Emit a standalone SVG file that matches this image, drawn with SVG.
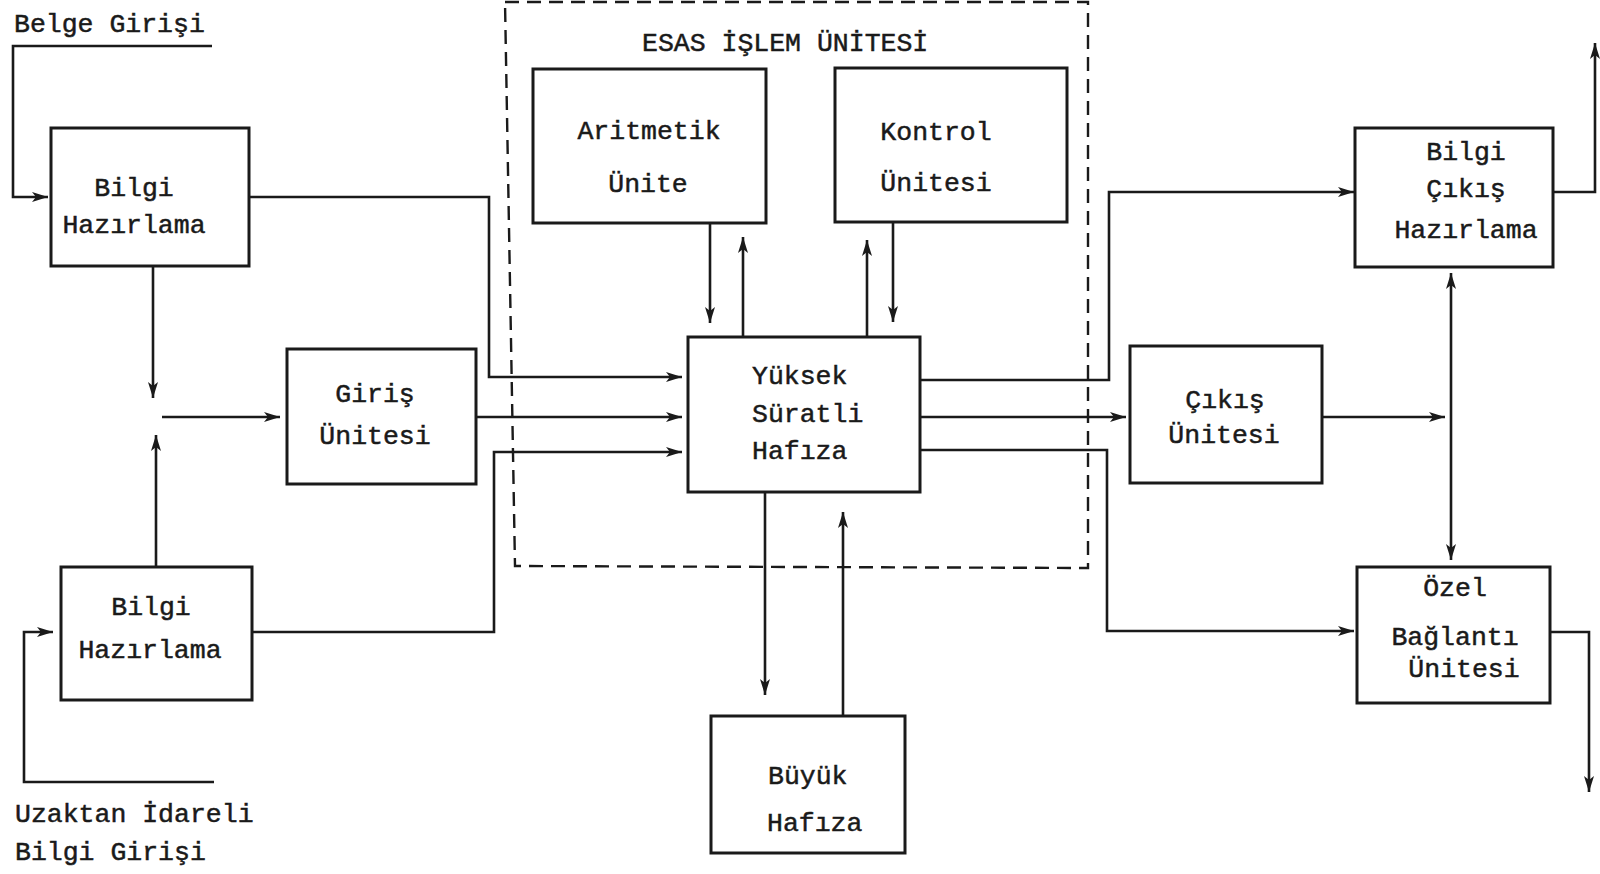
<svg xmlns="http://www.w3.org/2000/svg" width="1600" height="874" viewBox="0 0 1600 874">
<style>
.box{fill:none;stroke:#1a1a1a;stroke-width:3}
.ln{fill:none;stroke:#1a1a1a;stroke-width:2.6}
.ar{marker-end:url(#ah)}
.dash{fill:none;stroke:#1a1a1a;stroke-width:2.4;stroke-dasharray:14 8}
text{font-family:"Liberation Mono","DejaVu Sans Mono",monospace;font-size:26.5px;fill:#1a1a1a;stroke:#1a1a1a;stroke-width:0.5}
.m{text-anchor:middle}
</style>
<defs>
<marker id="ah" markerUnits="userSpaceOnUse" markerWidth="18" markerHeight="12" refX="16" refY="6" orient="auto-start-reverse">
<path d="M0,1 L16,6 L0,11 L4,6 Z" fill="#1a1a1a"/>
</marker>
</defs>
<rect width="1600" height="874" fill="#ffffff"/>

<g id="connectors">
<polyline class="ln ar" points="212,46 13,46 13,197 48,197"/>
<polyline class="ln ar" points="249,197 489,197 489,377 682,377"/>
<polyline class="ln ar" points="153,266 153,398"/>
<polyline class="ln ar" points="162,417 280,417"/>
<polyline class="ln ar" points="156,567 156,435"/>
<polyline class="ln ar" points="476,417 682,417"/>
<polyline class="ln ar" points="252,632 494,632 494,452 682,452"/>
<polyline class="ln ar" points="214,782 24,782 24,632 53,632"/>
<polyline class="ln ar" points="710,223 710,323"/>
<polyline class="ln ar" points="743,337 743,237"/>
<polyline class="ln ar" points="867,337 867,240"/>
<polyline class="ln ar" points="893,222 893,322"/>
<polyline class="ln ar" points="920,380 1109,380 1109,192 1354,192"/>
<polyline class="ln ar" points="920,417 1126,417"/>
<polyline class="ln ar" points="920,450 1107,450 1107,631 1354,631"/>
<polyline class="ln ar" points="765,492 765,695"/>
<polyline class="ln ar" points="843,716 843,512"/>
<polyline class="ln ar" points="1553,192 1595,192 1595,43"/>
<polyline class="ln ar" points="1322,417 1445,417"/>
<line class="ln" x1="1451" y1="273" x2="1451" y2="560" marker-start="url(#ah)" marker-end="url(#ah)"/>
<polyline class="ln ar" points="1550,632 1589,632 1589,792"/>
</g>

<g id="esas-islem-unitesi">
<polygon class="dash" points="505,2 1088,2 1088,568 515,566"/>
<text x="642" y="51">ESAS İŞLEM ÜNİTESİ</text>
</g>

<g id="belge-girisi">
<text x="14" y="32">Belge Girişi</text>
</g>

<g id="uzaktan-girisi">
<text x="15" y="822">Uzaktan İdareli</text>
<text x="15" y="860">Bilgi Girişi</text>
</g>

<g id="bilgi-hazirlama-1">
<rect class="box" x="51" y="128" width="198" height="138"/>
<text class="m" x="134" y="196">Bilgi</text>
<text class="m" x="134" y="233">Hazırlama</text>
</g>

<g id="bilgi-hazirlama-2">
<rect class="box" x="61" y="567" width="191" height="133"/>
<text class="m" x="151" y="615">Bilgi</text>
<text class="m" x="150" y="658">Hazırlama</text>
</g>

<g id="giris-unitesi">
<rect class="box" x="287" y="349" width="189" height="135"/>
<text class="m" x="375" y="402">Giriş</text>
<text class="m" x="375" y="444">Ünitesi</text>
</g>

<g id="aritmetik-unite">
<rect class="box" x="533" y="69" width="233" height="154"/>
<text class="m" x="649" y="139">Aritmetik</text>
<text class="m" x="648" y="192">Ünite</text>
</g>

<g id="kontrol-unitesi">
<rect class="box" x="835" y="68" width="232" height="154"/>
<text class="m" x="936" y="140">Kontrol</text>
<text class="m" x="936" y="191">Ünitesi</text>
</g>

<g id="yuksek-suratli-hafiza">
<rect class="box" x="688" y="337" width="232" height="155"/>
<text x="752" y="384">Yüksek</text>
<text x="752" y="422">Süratli</text>
<text x="752" y="459">Hafıza</text>
</g>

<g id="buyuk-hafiza">
<rect class="box" x="711" y="716" width="194" height="137"/>
<text x="768" y="784">Büyük</text>
<text x="767" y="831">Hafıza</text>
</g>

<g id="cikis-unitesi">
<rect class="box" x="1130" y="346" width="192" height="137"/>
<text class="m" x="1225" y="408">Çıkış</text>
<text class="m" x="1224" y="443">Ünitesi</text>
</g>

<g id="bilgi-cikis-hazirlama">
<rect class="box" x="1355" y="128" width="198" height="139"/>
<text class="m" x="1466" y="160">Bilgi</text>
<text class="m" x="1466" y="197">Çıkış</text>
<text class="m" x="1466" y="238">Hazırlama</text>
</g>

<g id="ozel-baglanti-unitesi">
<rect class="box" x="1357" y="567" width="193" height="136"/>
<text class="m" x="1455" y="596">Özel</text>
<text class="m" x="1455" y="645">Bağlantı</text>
<text class="m" x="1464" y="677">Ünitesi</text>
</g>
</svg>
